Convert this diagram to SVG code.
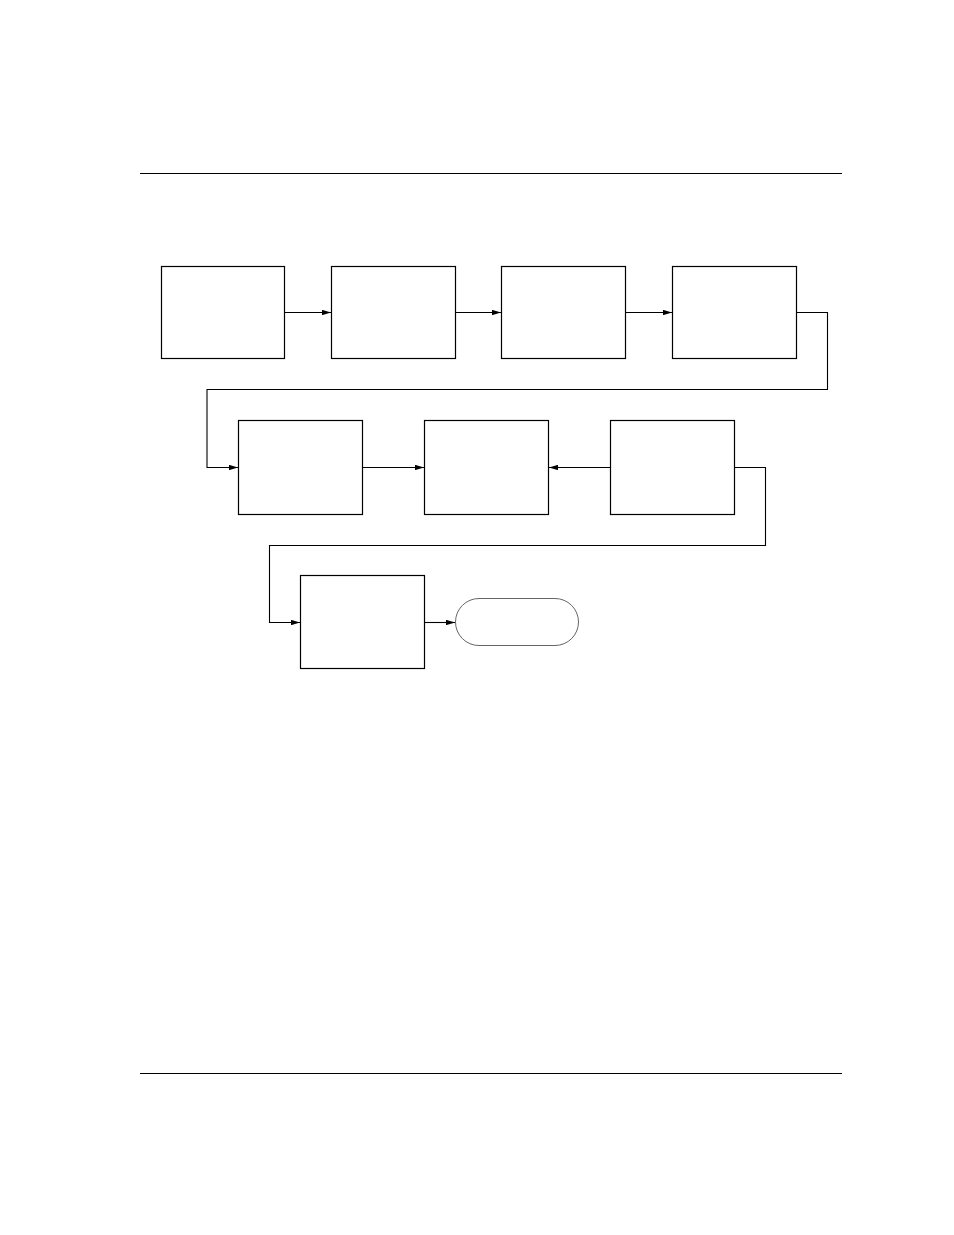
<svg xmlns="http://www.w3.org/2000/svg" width="954" height="1235" viewBox="0 0 954 1235">
<style>
.box{fill:#fff;stroke:#000;stroke-width:1.2}
.term{fill:#fff;stroke:#666;stroke-width:1}
.rule{stroke:#000;stroke-width:1.2}
.conn{fill:none;stroke:#000;stroke-width:1.1}
</style>
<defs>
<marker id="arr" viewBox="0 0 10 6" refX="10" refY="3" markerWidth="9" markerHeight="5.4" markerUnits="userSpaceOnUse" orient="auto">
<path d="M0,0 L10,3 L0,6 z" fill="#000"/>
</marker>
</defs>
<rect width="954" height="1235" fill="#fff"/>
<line class="rule" x1="140" y1="173.5" x2="842" y2="173.5"/>
<line class="rule" x1="140" y1="1073.5" x2="842" y2="1073.5"/>
<g id="connectors">
<path class="conn" d="M284.5,312.5 H331" marker-end="url(#arr)"/>
<path class="conn" d="M455.5,312.5 H501" marker-end="url(#arr)"/>
<path class="conn" d="M625.5,312.5 H672" marker-end="url(#arr)"/>
<path class="conn" d="M796.5,312.5 H827.5 V389.5 H207 V467.5 H238" marker-end="url(#arr)"/>
<path class="conn" d="M362.5,467.5 H424" marker-end="url(#arr)"/>
<path class="conn" d="M610.5,467.5 H549" marker-end="url(#arr)"/>
<path class="conn" d="M734.5,467.5 H765.5 V545.5 H269.5 V622.5 H300" marker-end="url(#arr)"/>
<path class="conn" d="M424.5,622.5 H455" marker-end="url(#arr)"/>
</g>
<g id="n1"><rect class="box" x="161.5" y="266.5" width="123" height="92"/></g>
<g id="n2"><rect class="box" x="331.5" y="266.5" width="124" height="92"/></g>
<g id="n3"><rect class="box" x="501.5" y="266.5" width="124" height="92"/></g>
<g id="n4"><rect class="box" x="672.5" y="266.5" width="124" height="92"/></g>
<g id="n5"><rect class="box" x="238.5" y="420.5" width="124" height="94"/></g>
<g id="n6"><rect class="box" x="424.5" y="420.5" width="124" height="94"/></g>
<g id="n7"><rect class="box" x="610.5" y="420.5" width="124" height="94"/></g>
<g id="n8"><rect class="box" x="300.5" y="575.5" width="124" height="93"/></g>
<g id="n9"><rect class="term" x="455.5" y="598.5" width="123" height="47" rx="23.5" ry="23.5"/></g>
</svg>
